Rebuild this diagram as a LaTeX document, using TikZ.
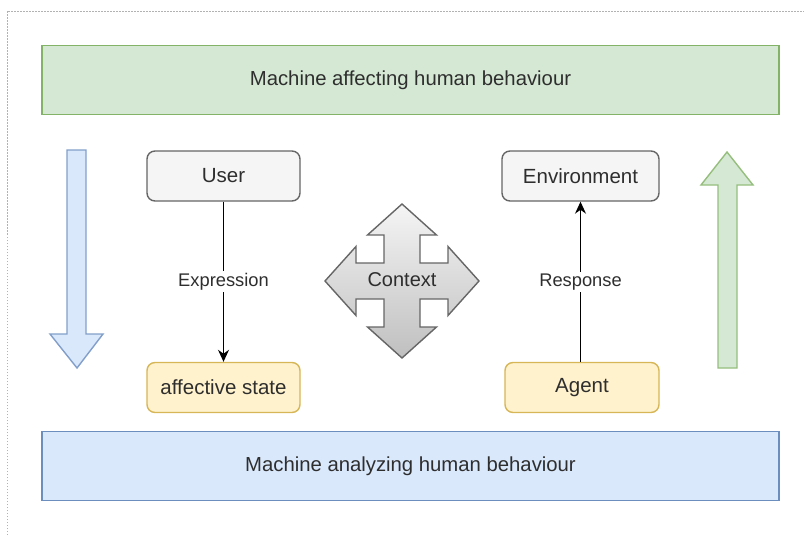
\documentclass[tikz,border=0pt]{standalone}
\usepackage{fontspec}
\setmainfont{Liberation Sans}
\usetikzlibrary{arrows.meta,calc}
\definecolor{txt}{HTML}{2E2E2E}
\definecolor{grnF}{HTML}{D5E8D4}
\definecolor{grnS}{HTML}{82B366}
\definecolor{bluF}{HTML}{DAE8FC}
\definecolor{bluS}{HTML}{6C8EBF}
\definecolor{gryF}{HTML}{F5F5F5}
\definecolor{gryS}{HTML}{666666}
\definecolor{ylwF}{HTML}{FFF2CC}
\definecolor{ylwS}{HTML}{D6B656}
\tikzset{
  band/.style={draw, line width=1.5pt, inner sep=0pt, minimum width=737pt, minimum height=69pt, text=txt, font=\fontsize{20.3}{24}\selectfont},
  card/.style={draw, rounded corners=8pt, line width=1.4pt, inner sep=0pt, minimum height=50pt, text=txt, font=\fontsize{20.5}{24}\selectfont},
  greycard/.style={card, fill=gryF, draw=gryS},
  yellowcard/.style={card, fill=ylwF, draw=ylwS},
  flow/.style={draw=black, line width=1.4pt, -{Stealth[length=12pt,width=11pt]}},
  lbl/.style={fill=white, text=txt, inner sep=2pt, font=\fontsize{18.3}{22}\selectfont},
  bigarrow/.style={line width=1.4pt, line join=miter}
}
\begin{document}
\begin{tikzpicture}[x=1pt,y=-1pt]
\useasboundingbox (0,0) rectangle (804,535);
% page border remnants
\draw[gray!60, line width=0.6pt, dash pattern=on 1.5pt off 1.5pt] (7,535) -- (7,11) -- (804,11);

% bands
\node[band, fill=grnF, draw=grnS] (top) at (410.5,80) {Machine affecting human behaviour};
\node[band, fill=bluF, draw=bluS] (bottom) at (410.5,466) {Machine analyzing human behaviour};

% cards
\node[greycard, minimum width=153pt] (user) at (223.5,176) {User};
\node[yellowcard, minimum width=153pt] (affect) at (223.5,387.5) {affective state};
\node[greycard, minimum width=157pt] (env) at (580.5,176) {Environment};
\node[yellowcard, minimum width=154pt] (agent) at (582,387.5) {Agent};

% connectors
\draw[flow] (user.south) -- node[lbl] {Expression} (affect.north);
\draw[flow] (agent.north -| env.south) -- node[lbl] {Response} (env.south);

% big side arrows
\draw[bigarrow, fill=bluF, draw=bluS!85] (67,150) -- (86,150) -- (86,334) -- (103,334) -- (77,368) -- (50,334) -- (67,334) -- cycle;
\draw[bigarrow, fill=grnF, draw=grnS!85] (718,368) -- (737,368) -- (737,185) -- (753,185) -- (727,152) -- (701,185) -- (718,185) -- cycle;

% context cross
\coordinate (c) at (402,281);
\def\cs{18}\def\chb{46}\def\chw{34.5}\def\ctp{77}
\draw[line width=1.4pt, draw=gryS, top color=gray!8, bottom color=gray!50, shading angle=0]
 ($(c)+(0,-\ctp)$) -- ++(\chw,\ctp-\chb) -- ++(\cs-\chw,0) -- ++(0,\chb-\cs) -- ++(\chb-\cs,0) -- ++(0,\cs-\chw)
 -- ++(\ctp-\chb,\chw) -- ++(\chb-\ctp,\chw) -- ++(0,\cs-\chw) -- ++(\cs-\chb,0) -- ++(0,\chb-\cs) -- ++(\chw-\cs,0)
 -- ++(-\chw,\ctp-\chb) -- ++(-\chw,\chb-\ctp) -- ++(\chw-\cs,0) -- ++(0,\cs-\chb) -- ++(\cs-\chb,0) -- ++(0,\chw-\cs)
 -- ++(\chb-\ctp,-\chw) -- ++(\ctp-\chb,-\chw) -- ++(0,\chw-\cs) -- ++(\chb-\cs,0) -- ++(0,\cs-\chb) -- ++(\cs-\chw,0) -- cycle;
\node[text=txt, font=\fontsize{20}{24}\selectfont, inner sep=0pt] (ctx) at (402,280) {Context};
\end{tikzpicture}
\end{document}
